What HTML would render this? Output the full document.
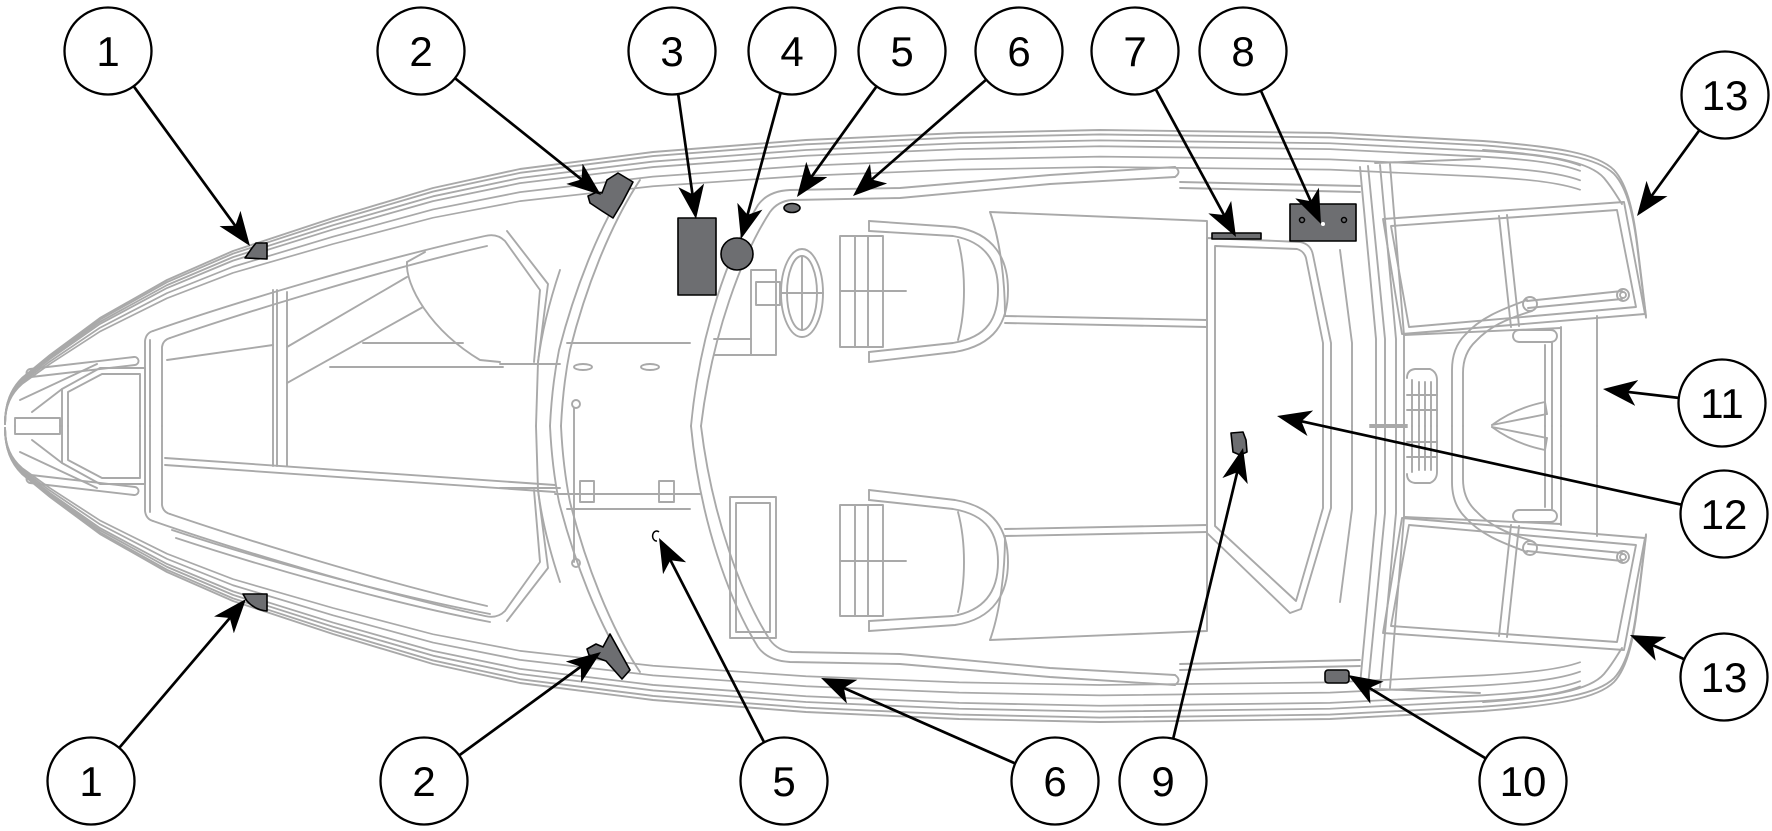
<!DOCTYPE html>
<html><head><meta charset="utf-8"><style>
html,body{margin:0;padding:0;background:#fff;}
svg{display:block;}
</style></head><body>
<svg width="1772" height="831" viewBox="0 0 1772 831" xmlns="http://www.w3.org/2000/svg">
<defs>
<path id="hullOuter" d="M5,424 C5,403 11,389 22,378 L50,355 L100,318 L167,280 L233,251 L333,218 L433,188 L520,169 L653,152 L806,140 L959,133 L1100,130 L1330,133 L1483,141 C1560,147 1598,154 1614,170 C1628,185 1634,215 1638,250 L1646,316"/>
<path id="gw" d="M5,424 C5,403 11,389 22,378 L50,355 L100,318 L167,280 L233,251 L333,218 L433,188 L520,169 L653,152 L806,140 L959,133 L1100,130 L1330,133 L1483,141 C1530,144 1560,148 1580,156"/>
<marker id="ah" markerUnits="userSpaceOnUse" viewBox="0 0 34 26" markerWidth="34" markerHeight="26" refX="24" refY="13" orient="auto">
<path d="M0,0 L34,13 L0,26 L9,13 Z" fill="#000"/>
</marker>
<g id="half" fill="none" stroke="#a9a9a9" stroke-width="1.9" stroke-linejoin="round" stroke-linecap="round">
<use href="#hullOuter"/>
<use href="#hullOuter" transform="matrix(1,0,0,0.985,0,6.39)"/>
<use href="#gw" transform="matrix(1,0,0,0.965,0,14.91)"/>
<use href="#gw" transform="matrix(1,0,0,0.945,0,23.43)"/>
<use href="#gw" transform="matrix(1,0,0,0.91,0,38.34)"/>
<use href="#gw" transform="matrix(1,0,0,0.875,0,53.25)"/>
<!-- bow rail -->
<path d="M30,369 L134,357 A4,4 0 0 1 135,365 L31,377 A4,4 0 0 1 30,369 Z"/>
<!-- anchor locker -->
<path d="M62,426 L62,389 L100,368 L145,368 L145,426"/>
<path d="M68,426 L68,392 L102,374 L140,374 L140,426"/>
<path d="M32,412 L62,389 M20,400 L97,364"/>
<path d="M15,426 L15,418 L60,418 L60,426"/>
<!-- bulkhead -->
<path d="M145,426 L145,341 Q146,333 153,331"/>
<path d="M150,426 L150,340"/>
<path d="M162,426 L162,347 Q163,340 170,338"/>
<!-- coaming -->
<path d="M153,331 C230,304 380,259 485,236 Q497,233 505,241 L540,290 L534,362"/>
<path d="M170,338 C240,314 385,269 487,246"/>
<path d="M507,231 L548,284 L538,362"/>
<!-- windshield -->
<path d="M640,180 C610,225 585,290 570,350 C564,380 562,405 561,426"/>
<path d="M628,183 C598,228 574,292 559,350 C553,380 551,405 550,426"/>
<path d="M560,270 C550,300 542,330 538,362 L536,426"/>
<path d="M567,343 L690,343"/>
<path d="M500,364 L560,364"/>
<!-- C shape -->
<path d="M1175,167 L1050,175 L900,188 L790,190 Q768,191 758,205 C730,250 700,330 691,426"/>
<path d="M1175,177 L1050,184 L900,198 L792,200 Q778,201 770,212 C742,255 712,335 701,426"/>
<path d="M1175,167 Q1182,172 1175,177"/>
<!-- helm / passenger seat -->
<path d="M869,221 L955,227 C995,233 1008,260 1008,290 C1008,322 995,345 955,352 L869,362"/>
<path d="M869,231 L953,236 C988,242 998,265 998,290 C998,318 988,337 953,343 L869,352"/>
<path d="M869,221 L869,231 M869,352 L869,362"/>
<path d="M958,240 C966,270 966,310 958,340"/>
<rect x="840" y="236" width="43" height="111"/>
<path d="M855,236 L855,347 M868,236 L868,347 M840,291 L906,291"/>
<!-- side long seat -->
<path d="M990,212 L1207,221 L1207,326"/>
<path d="M990,212 C1000,240 1005,280 1005,316 L1207,320"/>
<path d="M1005,323 L1207,327"/>
<!-- transom band -->
<path d="M1340,250 L1352,343 L1352,426"/>
<path d="M1360,167 L1376,339 L1376,426"/>
<path d="M1368,166 L1385,339 L1385,426"/>
<path d="M1380,165 L1396,339 L1396,426"/>
<path d="M1390,164 L1404,335 L1404,426"/>
<!-- stern pads -->
<path d="M1383,219 L1624,202 L1645,314 L1402,334 Z"/>
<path d="M1391,226 L1617,210 L1636,307 L1409,327 Z"/>
<path d="M1499,216 L1511,327 M1507,215 L1519,326"/>
<path d="M1483,150 C1553,155 1590,162 1604,178 C1614,190 1619,200 1622,204"/>
<path d="M1375,163 L1480,159"/>
<!-- swim platform -->
<path d="M1597,316 L1597,426"/>
<path d="M1404,335 L1561,328"/>
<path d="M1561,327 L1561,426"/>
<path d="M1545,345 L1545,426 M1552,343 L1552,426"/>
<rect x="1513" y="330" width="44" height="12" rx="6"/>
<path d="M1527,301 L1622,291 M1528,308 L1622,299"/>
<circle cx="1623" cy="295" r="6"/>
<circle cx="1623" cy="295" r="3"/>
<circle cx="1530" cy="304" r="7"/>
<path d="M1527,300 C1500,310 1480,318 1465,335 Q1452,348 1452,370 L1452,426"/>
<path d="M1532,311 C1506,319 1489,327 1476,341 Q1463,353 1463,373 L1463,426"/>
<path d="M1407,378 Q1407,370 1415,369 L1430,369 Q1437,372 1437,380 L1437,426"/>
<path d="M1412,380 L1412,426 M1419,382 L1419,426 M1425,382 L1425,426 M1431,382 L1431,426 M1407,395 L1437,395 M1407,410 L1437,410"/>
<path d="M1492,425 Q1515,408 1545,402 L1547,414"/>
<path d="M1492,425 L1547,414"/>
<path d="M1370,425 L1407,425"/>
</g>
</defs>

<rect x="0" y="0" width="1772" height="831" fill="#fff"/>
<use href="#half"/>
<use href="#half" transform="matrix(1,0,0,-1,0,852)"/>

<!-- asymmetric details -->
<g fill="none" stroke="#a9a9a9" stroke-width="1.9" stroke-linejoin="round" stroke-linecap="round">
<!-- bow lounger top -->
<path d="M167,360 L273,345"/>
<path d="M273,290 L273,466 M277,290 L277,466 M287,292 L287,466"/>
<path d="M287,347 L407,277 M287,383 L423,307"/>
<path d="M363,343 L463,343 M330,367 L503,367"/>
<path d="M407,262 C405,285 430,330 480,360 L500,362"/>
<path d="M407,262 L425,252"/>
<!-- bow divider -->
<path d="M165,458 L555,485 M165,465 L555,492"/>
<!-- lower bow seat stripes -->
<path d="M172,530 C250,556 385,594 490,614"/>
<path d="M176,538 C255,564 385,602 490,622"/>
<!-- walkthrough floor -->
<ellipse cx="583" cy="367" rx="9" ry="3"/>
<ellipse cx="650" cy="367" rx="9" ry="3"/>
<path d="M555,494 L700,494"/>
<rect x="580" y="481" width="14" height="21"/>
<rect x="659" y="481" width="15" height="21"/>
<path d="M574,408 L574,562"/>
<circle cx="576" cy="404" r="4"/>
<circle cx="576" cy="563" r="4"/>
<!-- helm console & wheel -->
<rect x="751" y="270" width="25" height="85"/>
<path d="M714,339 L751,339 M714,355 L751,355"/>
<ellipse cx="802" cy="293" rx="21" ry="44"/>
<ellipse cx="802" cy="293" rx="15" ry="37"/>
<rect x="756" y="282" width="24" height="23"/>
<path d="M781,293 L823,293 M802,256 L802,330"/>
<!-- passenger cabinet -->
<rect x="730" y="497" width="46" height="141"/>
<rect x="736" y="503" width="34" height="129"/>
<!-- aft floor -->
<path d="M1207,238 L1300,242 Q1311,244 1313,255 L1331,343 L1331,508 L1301,609 L1290,613 L1207,533 Z"/>
<path d="M1215,246 L1297,249 Q1304,251 1306,258 L1323,343 L1323,508 L1296,601 L1215,526 Z"/>
<path d="M1180,182 L1360,186 M1180,188 L1360,192"/>
<path d="M1180,670 L1360,666 M1180,664 L1360,660"/>
</g>

<!-- dark parts -->
<g fill="#6d6e71" stroke="#000" stroke-width="1.6" stroke-linejoin="round">
<path d="M245,258 L252,248 L256,243 L267,243 L267,259 Z"/>
<path d="M243,594 L267,594 L267,611 Q255,610 247,601 Z"/>
<path d="M618,173 L633,182 L622,203 L613,218 L602,211 L590,203 L588,196 L597,192 L602,193 L607,180 Z"/>
<path d="M610,634 L630,670 L622,679 L606,661 L589,655 L587,649 L596,644 L603,647 Z"/>
<rect x="678" y="218" width="38" height="77"/>
<circle cx="737" cy="254" r="16"/>
<ellipse cx="792" cy="208" rx="8" ry="4.5"/>
<rect x="1212" y="233" width="49" height="6"/>
<rect x="1290" y="204" width="66" height="37"/>
<path d="M1231,433 L1243,432 L1246,440 L1247,452 L1240,455 L1233,452 Z"/>
<rect x="1325" y="670" width="24" height="13" rx="3"/>
</g>
<g fill="none" stroke="#000" stroke-width="1.5">
<circle cx="1302" cy="220" r="2.5"/>
<circle cx="1344" cy="220" r="2.5"/>
<path d="M659,532 A4,5 0 1 0 657,541"/>
</g>
<circle cx="1323" cy="224" r="2" fill="#fff"/>

<!-- arrows -->
<g stroke="#000" stroke-width="2.7" fill="none" marker-end="url(#ah)">
<line x1="108" y1="51" x2="244.1" y2="237.9"/>
<line x1="421" y1="51" x2="593.2" y2="188.8"/>
<line x1="672" y1="51" x2="694.6" y2="209.1"/>
<line x1="792" y1="51" x2="743.6" y2="229.4"/>
<line x1="902" y1="51" x2="802.8" y2="188.9"/>
<line x1="1019" y1="51" x2="860.5" y2="189.4"/>
<line x1="1135" y1="51" x2="1231.2" y2="228.2"/>
<line x1="1243" y1="51" x2="1316.9" y2="214.9"/>
<line x1="1725" y1="95" x2="1642.9" y2="207.9"/>
<line x1="1722" y1="403" x2="1612.9" y2="390.2"/>
<line x1="1724" y1="514" x2="1286.8" y2="418.1"/>
<line x1="1724" y1="677" x2="1639.1" y2="639.1"/>
<line x1="91" y1="781" x2="239.5" y2="606.6"/>
<line x1="424" y1="781" x2="592.9" y2="657.9"/>
<line x1="784" y1="781" x2="663.6" y2="546.9"/>
<line x1="1055" y1="781" x2="830.2" y2="682"/>
<line x1="1163" y1="781" x2="1240.7" y2="457.7"/>
<line x1="1523" y1="781" x2="1356.6" y2="680.2"/>
</g>

<!-- callout circles -->
<g fill="#fff" stroke="#000" stroke-width="2.3">
<circle cx="108" cy="51" r="43.5"/>
<circle cx="421" cy="51" r="43.5"/>
<circle cx="672" cy="51" r="43.5"/>
<circle cx="792" cy="51" r="43.5"/>
<circle cx="902" cy="51" r="43.5"/>
<circle cx="1019" cy="51" r="43.5"/>
<circle cx="1135" cy="51" r="43.5"/>
<circle cx="1243" cy="51" r="43.5"/>
<circle cx="1725" cy="95" r="43.5"/>
<circle cx="1722" cy="403" r="43.5"/>
<circle cx="1724" cy="514" r="43.5"/>
<circle cx="1724" cy="677" r="43.5"/>
<circle cx="91" cy="781" r="43.5"/>
<circle cx="424" cy="781" r="43.5"/>
<circle cx="784" cy="781" r="43.5"/>
<circle cx="1055" cy="781" r="43.5"/>
<circle cx="1163" cy="781" r="43.5"/>
<circle cx="1523" cy="781" r="43.5"/>
</g>
<g font-family="'Liberation Sans', Arial, sans-serif" font-size="42" text-anchor="middle" fill="#000">
<text x="108" y="66">1</text>
<text x="421" y="66">2</text>
<text x="672" y="66">3</text>
<text x="792" y="66">4</text>
<text x="902" y="66">5</text>
<text x="1019" y="66">6</text>
<text x="1135" y="66">7</text>
<text x="1243" y="66">8</text>
<text x="1725" y="110">13</text>
<text x="1722" y="418">11</text>
<text x="1724" y="529">12</text>
<text x="1724" y="692">13</text>
<text x="91" y="796">1</text>
<text x="424" y="796">2</text>
<text x="784" y="796">5</text>
<text x="1055" y="796">6</text>
<text x="1163" y="796">9</text>
<text x="1523" y="796">10</text>
</g>
</svg>
</body></html>
